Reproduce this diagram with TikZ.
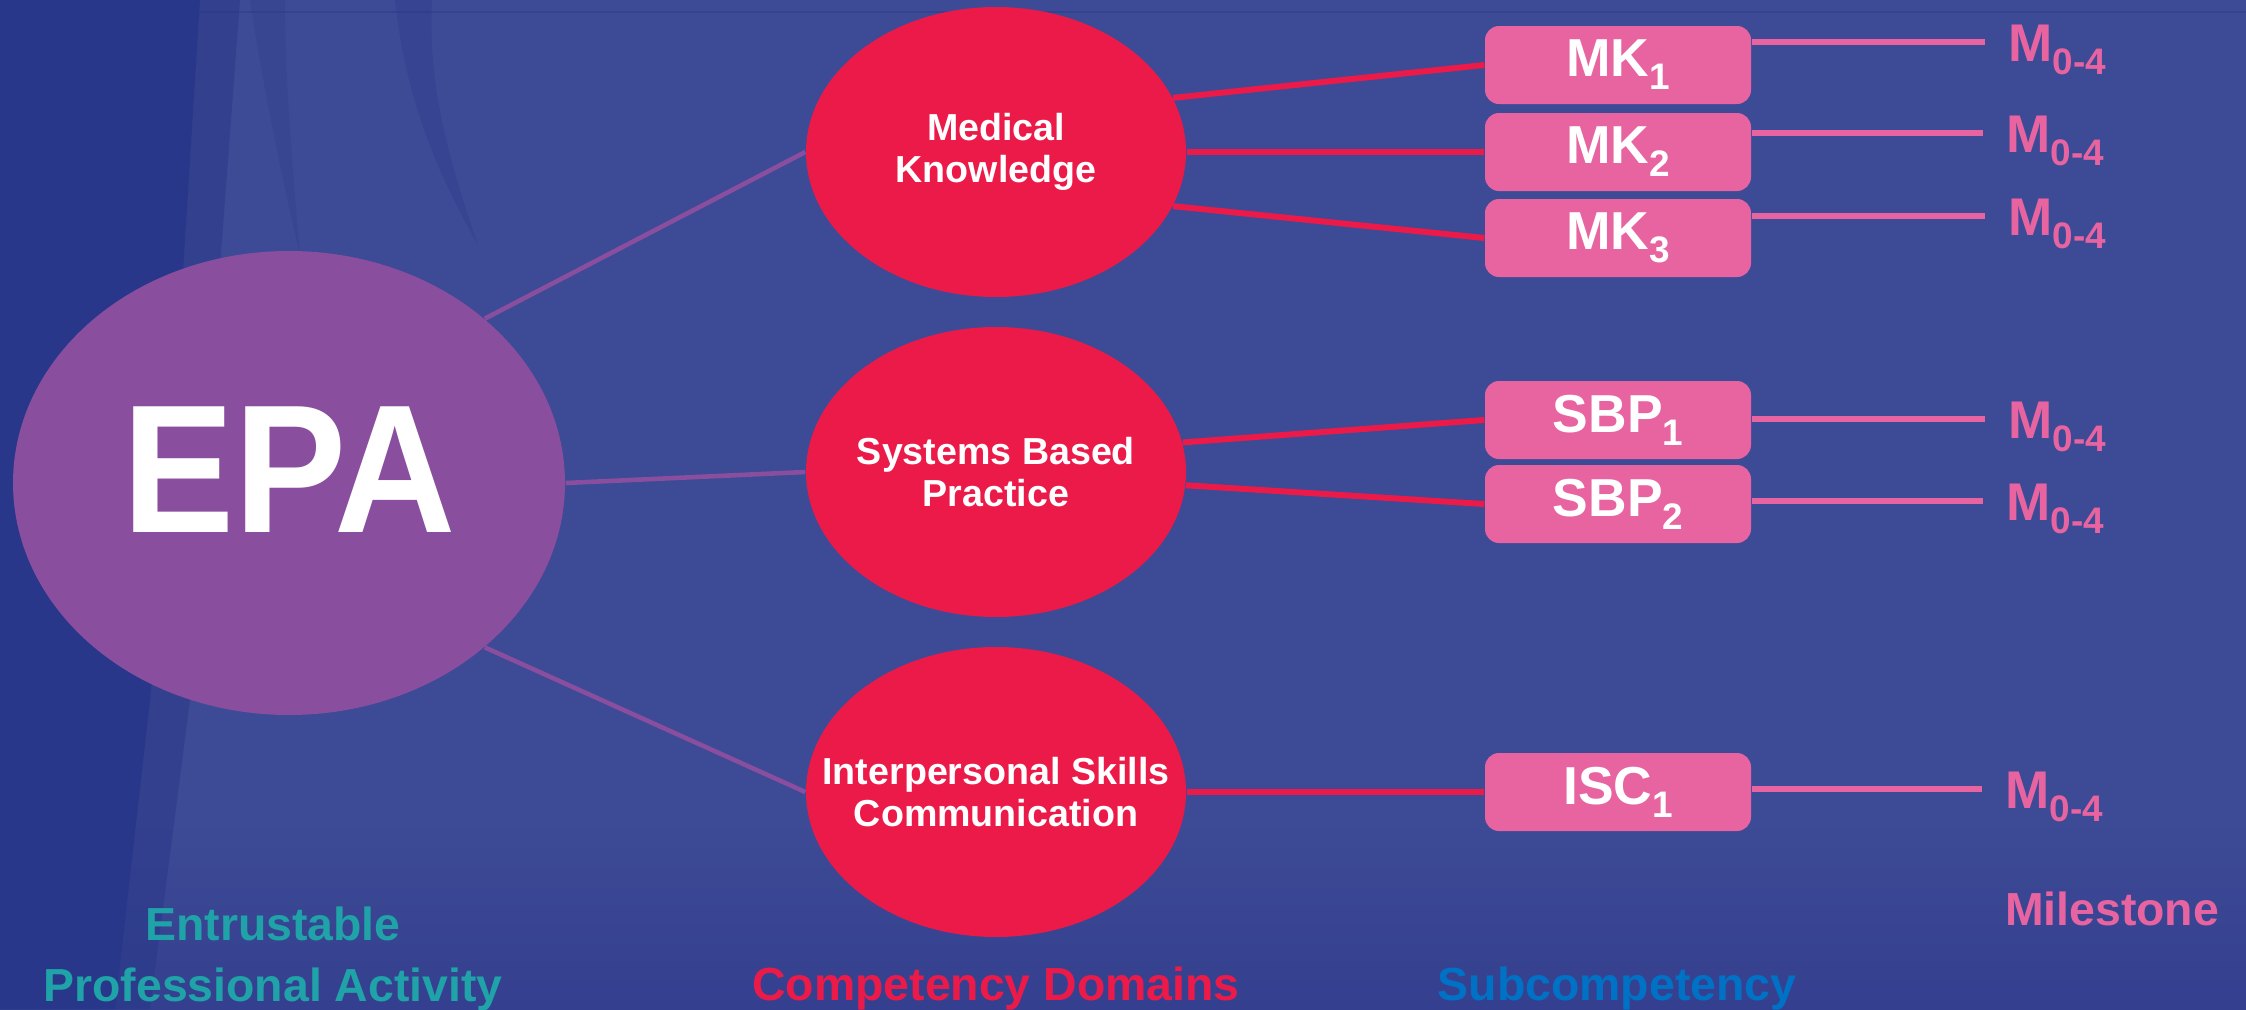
\documentclass[tikz,border=0pt]{standalone}
\usepackage{fontspec}
\setmainfont{Liberation Sans}
\newfontfamily\epafont{Liberation Sans}[FakeStretch=0.92]
\usetikzlibrary{shapes.geometric,calc}

\definecolor{bgblue}{HTML}{3D4A95}
\definecolor{bgdark}{HTML}{283789}
\definecolor{bgbottom}{HTML}{34408F}
\definecolor{epapurple}{HTML}{8A4E9F}
\definecolor{domred}{HTML}{EC1A49}
\definecolor{subpink}{HTML}{E864A1}
\definecolor{capteal}{HTML}{1FA2A8}
\definecolor{capblue}{HTML}{0072C6}

% lowered index for MK_1, M_0-4 ...
\newcommand\idx[1]{\raisebox{-3.7pt}{\fontsize{10.5pt}{11pt}\selectfont #1}}

\tikzset{
    epa/.style={ellipse, fill=epapurple, minimum width=55.2mm, minimum height=46.4mm, inner sep=0pt},
    epatext/.style={text=white, inner sep=0pt, font=\epafont\bfseries\fontsize{52pt}{52pt}\selectfont},
    domainoval/.style={ellipse, fill=domred, minimum width=38mm, minimum height=29mm, inner sep=0pt},
    domaintext/.style={text=white, align=center, inner sep=0pt, font=\bfseries\fontsize{10.7pt}{12pt}\selectfont},
    subbox/.style={fill=subpink, rounded corners=1.4mm, minimum width=26.6mm, minimum height=7.8mm,
        inner sep=0pt, text=white, font=\bfseries\fontsize{15.2pt}{16pt}\selectfont},
    milabel/.style={text=subpink, inner sep=0pt, font=\bfseries\fontsize{15.1pt}{16pt}\selectfont},
    colcaption/.style={inner sep=0pt, font=\bfseries\fontsize{13.2pt}{17.1pt}\selectfont},
    epaline/.style={draw=epapurple, line width=1.3pt},
    domline/.style={draw=domred, line width=1.7pt},
    mileline/.style={draw=subpink, line width=1.5pt}
}

\begin{document}
\begin{tikzpicture}[x=0.1mm, y=-0.1mm]
        \useasboundingbox (0,0) rectangle (2246,1009);

        % backdrop
        \fill[bgblue] (0,0) rectangle (2246,1009);
        \shade[top color=bgblue, bottom color=bgbottom] (0,820) rectangle (2246,1009);
        \fill[bgdark, opacity=0.5] (0,0) -- (240,0) -- (210,400) -- (190,700) -- (150,1009) -- (0,1009) -- cycle;
        \fill[bgdark] (0,0) -- (200,0) -- (175,400) -- (150,700) -- (115,1009) -- (0,1009) -- cycle;
        \fill[bgdark, opacity=0.3] (395,0) .. controls (405,90) and (430,160) .. (478,245)
            .. controls (445,150) and (428,80) .. (432,0) -- cycle;
        \fill[bgdark, opacity=0.2] (250,0) .. controls (262,80) and (280,170) .. (300,255)
            .. controls (292,160) and (285,80) .. (285,0) -- cycle;
        \draw[bgdark, opacity=0.4, line width=0.6pt] (0,12) -- (2246,12);

        % left: the activity
        \node[epa] (epa) at (289,483) {};
        \node[epatext, yshift=1.3mm] (epatitle) at (epa) {EPA};

        % competency domains
        \node[domainoval] (mk) at (996,152) {};
        \node[domaintext] (mktext) at (mk) {Medical\\Knowledge};
        \node[domainoval] (sbp) at (996,472) {};
        \node[domaintext] (sbptext) at (sbp) {Systems Based\\Practice};
        \node[domainoval] (isc) at (996,792) {};
        \node[domaintext] (isctext) at (isc) {Interpersonal Skills\\Communication};

        \draw[epaline] (epa.40) -- (mk.west);
        \draw[epaline] (epa.east) -- (sbp.west);
        \draw[epaline] (epa.-40) -- (isc.west);

        % subcompetencies
        \node[subbox] (mk1) at (1618,65) {MK\idx{1}};
        \node[subbox] (mk2) at (1618,152) {MK\idx{2}};
        \node[subbox] (mk3) at (1618,238) {MK\idx{3}};
        \node[subbox] (sbp1) at (1618,420) {SBP\idx{1}};
        \node[subbox] (sbp2) at (1618,504) {SBP\idx{2}};
        \node[subbox] (isc1) at (1618,792) {ISC\idx{1}};

        \draw[domline] (mk.17) -- (mk1.west);
        \draw[domline] (mk.east) -- (mk2.west);
        \draw[domline] (mk.-17) -- (mk3.west);
        \draw[domline] (sbp.9) -- (sbp1.west);
        \draw[domline] (sbp.-4) -- (sbp2.west);
        \draw[domline] (isc.east) -- (isc1.west);

        % milestones
        \coordinate (m1) at (1985,42);
        \coordinate (m2) at (1983,133);
        \coordinate (m3) at (1985,216);
        \coordinate (m4) at (1985,419);
        \coordinate (m5) at (1983,501);
        \coordinate (m6) at (1982,789);

        \draw[mileline] (mk1.east |- m1) -- (m1);
        \draw[mileline] (mk2.east |- m2) -- (m2);
        \draw[mileline] (mk3.east |- m3) -- (m3);
        \draw[mileline] (sbp1.east |- m4) -- (m4);
        \draw[mileline] (sbp2.east |- m5) -- (m5);
        \draw[mileline] (isc1.east |- m6) -- (m6);

        \node[milabel, anchor=base west] (ms1) at ($(m1)+(23,19)$) {M\idx{0-4}};
        \node[milabel, anchor=base west] (ms2) at ($(m2)+(23,19)$) {M\idx{0-4}};
        \node[milabel, anchor=base west] (ms3) at ($(m3)+(23,19)$) {M\idx{0-4}};
        \node[milabel, anchor=base west] (ms4) at ($(m4)+(23,19)$) {M\idx{0-4}};
        \node[milabel, anchor=base west] (ms5) at ($(m5)+(23,19)$) {M\idx{0-4}};
        \node[milabel, anchor=base west] (ms6) at ($(m6)+(23,19)$) {M\idx{0-4}};

        % column captions
        \node[colcaption, text=capteal, align=center] (epacap) at (273,959) {Entrustable\\Professional Activity};
        \node[colcaption, text=domred, anchor=base] (domcap) at (996,1000) {Competency Domains};
        \node[colcaption, text=capblue, anchor=base] (subcap) at (1617,1000) {Subcompetency};
        \node[colcaption, text=subpink, anchor=base] (milecap) at (2112,925) {Milestone};
\end{tikzpicture}
\end{document}
